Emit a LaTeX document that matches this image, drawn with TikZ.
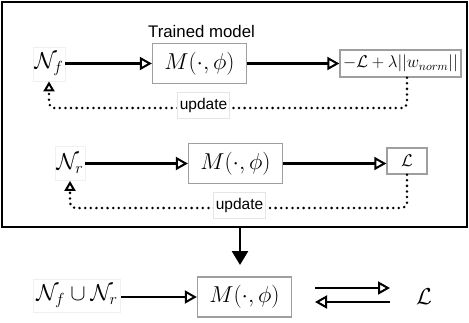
\documentclass[tikz,border=0pt]{standalone}
\usepackage{fontspec}
\usepackage{fix-cm}
\setsansfont{Liberation Sans}
\usetikzlibrary{arrows.meta}
\begin{document}
\begin{tikzpicture}[x=1pt,y=-1pt,
  big/.style={font=\fontsize{23}{27}\selectfont},
  mbox/.style={big,draw=gray!75,line width=1.3pt,inner sep=0pt,minimum width=94pt,minimum height=40pt},
  nbox/.style={big,draw=gray!12,line width=0.8pt,inner xsep=1.5pt,inner ysep=0pt,minimum height=34pt},
  lbox/.style={draw=gray!75,line width=1.3pt,inner sep=0pt,font=\fontsize{17}{20}\selectfont},
  ubox/.style={draw=gray!20,fill=white,line width=0.8pt,inner xsep=2pt,inner ysep=0pt,minimum height=26pt,font=\sffamily\fontsize{15.5}{18}\selectfont},
  arr/.style={line width=2.6pt,-{Triangle[open,length=12pt,width=13pt,line width=2pt]}},
  dotline/.style={line width=2.8pt,dash pattern=on 0pt off 5.6pt,line cap=round,rounded corners=5pt,-{Triangle[open,length=10pt,width=11pt,line width=2pt]}},
  downarr/.style={line width=2.6pt,-{Triangle[length=14pt,width=16pt]}}
]
\useasboundingbox (0,0) rectangle (469,322);
\draw[line width=1.3pt] (2,2) rectangle (467,227);
\coordinate (frameb) at (240,227);
% row 1
\node[nbox] (Nf) at (49,64) {$\mathcal{N}_f$};
\node[mbox] (M1) at (199.5,63.5) {$M(\cdot,\phi)$};
\node[anchor=base,font=\sffamily\fontsize{16.8}{20}\selectfont] (tm) at (201.5,37) {Trained model};
\node[lbox,minimum width=121pt,minimum height=27pt] (Lf) at (400.5,63.5) {$-\mathcal{L}+\lambda||w_{norm}||$};
\draw[arr] (Nf.east |- M1.west) -- (M1.west);
\draw[arr] (M1.east) -- (Lf.west);
\coordinate (c1) at (0,108);
\draw[dotline] ([xshift=6.5pt]Lf.south) -- ([xshift=6.5pt]Lf.south |- c1) -- (Nf.south |- c1) -- (Nf.south);
\node[ubox] (u1) at (203.5,105) {update};
% row 2
\node[nbox] (Nr) at (70,163.5) {$\mathcal{N}_r$};
\node[mbox] (M2) at (235.5,163.5) {$M(\cdot,\phi)$};
\node[lbox,minimum width=40pt,minimum height=26pt] (Lr) at (407,161) {$\mathcal{L}$};
\draw[arr] (Nr.east) -- (M2.west);
\draw[arr] (M2.east) -- (Lr.west |- M2.east);
\coordinate (c2) at (0,208);
\draw[dotline] (Lr.south) -- (Lr.south |- c2) -- (Nr.south |- c2) -- (Nr.south);
\node[ubox] (u2) at (239.5,205.5) {update};
% bottom
\node[nbox,inner xsep=3pt,minimum height=33pt] (Nfr) at (77,296) {$\mathcal{N}_f\cup\mathcal{N}_r$};
\node[mbox] (M3) at (244.5,297) {$M(\cdot,\phi)$};
\node[big] (L3) at (424,297) {$\mathcal{L}$};
\coordinate (dtip) at (240,265);
\draw[downarr] (frameb) -- (dtip);
\draw[arr] (Nfr.east |- M3.west) -- (M3.west);
\coordinate (a1) at (315,288);
\coordinate (a2) at (390,302);
\draw[arr] (a1) -- (a1 -| a2);
\draw[arr] (a2) -- (a2 -| a1);
\end{tikzpicture}
\end{document}
